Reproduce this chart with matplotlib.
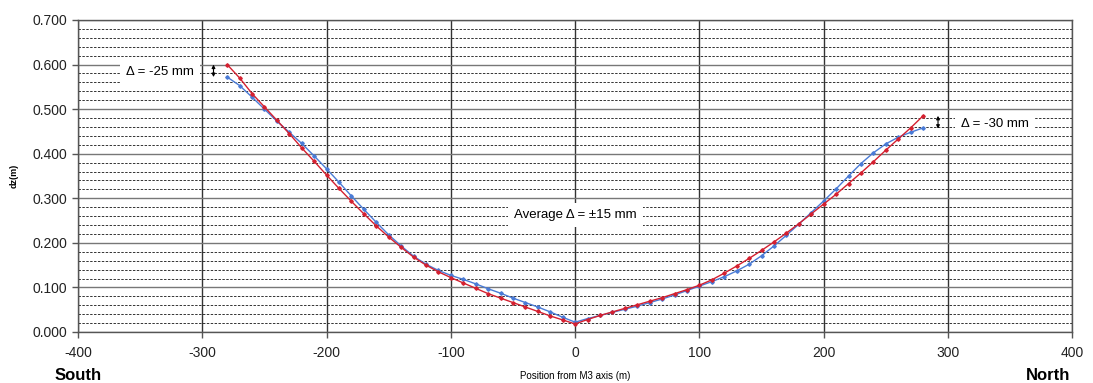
import numpy as np
import matplotlib.pyplot as plt
from matplotlib.ticker import MultipleLocator

plt.rcParams['font.family'] = ['Liberation Sans', 'DejaVu Sans']
plt.rcParams['axes.unicode_minus'] = False

# === Data ===
position = list(range(-280, 290, 10))

dz_red = [0.600, 0.570, 0.535, 0.505, 0.475, 0.445, 0.413, 0.383, 0.352, 0.322,
          0.293, 0.265, 0.238, 0.213, 0.190, 0.168, 0.150, 0.135, 0.122, 0.110,
          0.098, 0.086, 0.076, 0.066, 0.056, 0.046, 0.036, 0.027, 0.018,
          0.028, 0.037, 0.045, 0.053, 0.061, 0.069, 0.077, 0.086, 0.095, 0.105,
          0.117, 0.132, 0.148, 0.165, 0.183, 0.202, 0.222, 0.243, 0.265, 0.287,
          0.309, 0.333, 0.357, 0.382, 0.408, 0.433, 0.458, 0.485]

dz_blue = [0.572, 0.553, 0.527, 0.500, 0.473, 0.448, 0.423, 0.395, 0.366, 0.336,
           0.305, 0.275, 0.246, 0.218, 0.193, 0.170, 0.152, 0.138, 0.127, 0.118,
           0.108, 0.097, 0.087, 0.076, 0.066, 0.056, 0.045, 0.033, 0.022,
           0.030, 0.037, 0.044, 0.051, 0.058, 0.066, 0.074, 0.083, 0.093, 0.103,
           0.113, 0.124, 0.137, 0.152, 0.171, 0.193, 0.217, 0.242, 0.268, 0.294,
           0.321, 0.350, 0.378, 0.402, 0.422, 0.437, 0.448, 0.458]

RED = "#d42030"
BLUE = "#4a7bd6"

fig = plt.figure(figsize=(10.93, 3.83), dpi=100)
ax = fig.add_axes([0.0714, 0.1332, 0.9096, 0.8146])

ax.set_xlim(-400, 400)
ax.set_ylim(0, 0.7)
ax.xaxis.set_major_locator(MultipleLocator(100))
ax.yaxis.set_major_locator(MultipleLocator(0.1))
ax.yaxis.set_minor_locator(MultipleLocator(0.02))
ax.yaxis.set_major_formatter(plt.FormatStrFormatter("%.3f"))

# grid
ax.grid(True, which="major", axis="y", color="#777777", lw=1.0, ls="-")
ax.grid(True, which="minor", axis="y", color="#333333", lw=0.7, ls=(0, (2.5, 1.5)))
ax.grid(True, which="major", axis="x", color="#333333", lw=1.0, ls="-")
ax.set_axisbelow(True)

for s in ax.spines.values():
    s.set_color("#555555")
    s.set_linewidth(1.0)

ax.tick_params(axis="both", which="major", labelsize=10, colors="#222222",
               length=4, width=1, color="#555555")
ax.tick_params(axis="y", which="minor", length=0)
ax.tick_params(axis="x", pad=6)

ax.plot(position, dz_blue, color=BLUE, lw=1.0, marker="D", ms=1.8, zorder=3)
ax.plot(position, dz_red, color=RED, lw=1.0, marker="D", ms=1.8, zorder=4)

box = dict(facecolor="white", edgecolor="none", pad=4.5)
ax.text(-334, 0.583, "\u0394 = -25 mm", fontsize=9.5, ha="center", va="center",
        bbox=box, zorder=5)
ax.text(338, 0.466, "\u0394 = -30 mm", fontsize=9.5, ha="center", va="center",
        bbox=box, zorder=5)
ax.text(0, 0.262, "Average \u0394 = \u00b115 mm", fontsize=9.5, ha="center",
        va="center", bbox=box, zorder=5)

arrow = dict(arrowstyle="<|-|>", color="black", lw=0.8, mutation_scale=5,
             shrinkA=0, shrinkB=0)
ax.annotate("", xy=(-291, 0.600), xytext=(-291, 0.572), arrowprops=arrow, zorder=6)
ax.annotate("", xy=(292, 0.485), xytext=(292, 0.456), arrowprops=arrow, zorder=6)

ax.set_ylabel("dz(m)", fontsize=6.5, fontweight="bold", labelpad=10)
fig.text(0.526, 0.005, "Position from M3 axis (m)", fontsize=7, ha="center",
         va="bottom")
fig.text(0.05, 0.0, "South", fontsize=12, fontweight="bold", ha="left",
         va="bottom")
fig.text(0.979, 0.0, "North", fontsize=12, fontweight="bold", ha="right",
         va="bottom")

fig.savefig("out.png", dpi=100)
